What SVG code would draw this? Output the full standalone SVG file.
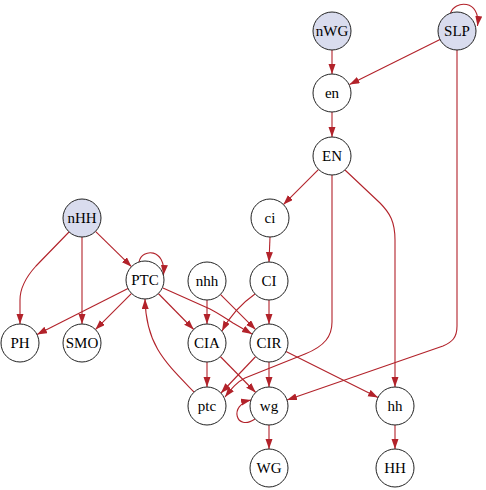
<svg xmlns="http://www.w3.org/2000/svg" width="486" height="490" viewBox="0 0 486 490">
<style>
.n circle{fill:#ffffff;stroke:#222;stroke-width:1}
.s circle{fill:#d9dcee}
.n text{font-family:"Liberation Serif","Times New Roman",serif;font-size:15px;text-anchor:middle;fill:#000}
.e path{fill:none;stroke:#b2222a;stroke-width:1.1;marker-end:url(#a)}
</style>
<defs>
<marker id="a" markerUnits="userSpaceOnUse" markerWidth="10" markerHeight="8" refX="10" refY="3.5" orient="auto">
<path d="M0,0 L10,3.5 L0,7 z" fill="#b2222a"/>
</marker>
</defs>
<rect width="486" height="490" fill="#fff"/>
<g id="edges" class="e">
<path d="M332,50 L332,74"/>
<path d="M440,39.5 L349.5,84.5"/>
<path d="M450.5,13.5 C454,0 481,-1 477.5,26"/>
<path d="M457,50 L457,326 C457,338 452,342 443,346 L287,400"/>
<path d="M332,112 L332,137"/>
<path d="M318.6,169.4 L283.4,204.6"/>
<path d="M332,175 L332,322 C332,336 325,346 305,354 L245,378 C237,382 232,388 225,397"/>
<path d="M345,170 L380,203 C390,213 395,222 395,240 L395,387"/>
<path d="M270,237 L269,262"/>
<path d="M269,300 L269,324"/>
<path d="M255,294 C245,301 232,312 222,331"/>
<path d="M207,300 L207,324"/>
<path d="M220.4,294.4 L255.6,329.6"/>
<path d="M163,288 L210,309 C218,313 225,318 233,323 L252,334"/>
<path d="M69,232 L36,266 C26,277 20,287 20,300 L20,324"/>
<path d="M82,237 L82,324"/>
<path d="M95.5,231.3 L131.5,266.7"/>
<path d="M139,262 C142,248 166,248 163.5,275"/>
<path d="M128,288.5 L37,334.5"/>
<path d="M131.6,293.4 L95.4,329.6"/>
<path d="M158.3,293.5 L193.7,329.5"/>
<path d="M207,362 L207,387"/>
<path d="M220.3,356.5 L255.7,392.5"/>
<path d="M255.7,356.5 L221,393"/>
<path d="M269,362 L269,387"/>
<path d="M286,351.5 L378,397.5"/>
<path d="M194,392 C165,362 146,345 145,299"/>
<path d="M255,419 C236,432 228,405 251,400"/>
<path d="M269,425 L269,449"/>
<path d="M395,425 L395,449"/>
</g>
<g id="nWG" class="n s"><circle cx="332" cy="31" r="19"/><text x="332" y="36">nWG</text></g>
<g id="SLP" class="n s"><circle cx="457" cy="31" r="19"/><text x="457" y="36">SLP</text></g>
<g id="en" class="n"><circle cx="332" cy="93" r="19"/><text x="332" y="98">en</text></g>
<g id="EN" class="n"><circle cx="332" cy="156" r="19"/><text x="332" y="161">EN</text></g>
<g id="ci" class="n"><circle cx="270" cy="218" r="19"/><text x="270" y="223">ci</text></g>
<g id="CI" class="n"><circle cx="269" cy="281" r="19"/><text x="269" y="286">CI</text></g>
<g id="nHH" class="n s"><circle cx="82" cy="218" r="19"/><text x="82" y="223">nHH</text></g>
<g id="PTC" class="n"><circle cx="145" cy="280" r="19"/><text x="145" y="285">PTC</text></g>
<g id="nhh" class="n"><circle cx="207" cy="281" r="19"/><text x="207" y="286">nhh</text></g>
<g id="PH" class="n"><circle cx="20" cy="343" r="19"/><text x="20" y="348">PH</text></g>
<g id="SMO" class="n"><circle cx="82" cy="343" r="19"/><text x="82" y="348">SMO</text></g>
<g id="CIA" class="n"><circle cx="207" cy="343" r="19"/><text x="207" y="348">CIA</text></g>
<g id="CIR" class="n"><circle cx="269" cy="343" r="19"/><text x="269" y="348">CIR</text></g>
<g id="ptc" class="n"><circle cx="207" cy="406" r="19"/><text x="207" y="411">ptc</text></g>
<g id="wg" class="n"><circle cx="269" cy="406" r="19"/><text x="269" y="411">wg</text></g>
<g id="hh" class="n"><circle cx="395" cy="406" r="19"/><text x="395" y="411">hh</text></g>
<g id="WG" class="n"><circle cx="269" cy="468" r="19"/><text x="269" y="473">WG</text></g>
<g id="HH" class="n"><circle cx="395" cy="468" r="19"/><text x="395" y="473">HH</text></g>
</svg>
